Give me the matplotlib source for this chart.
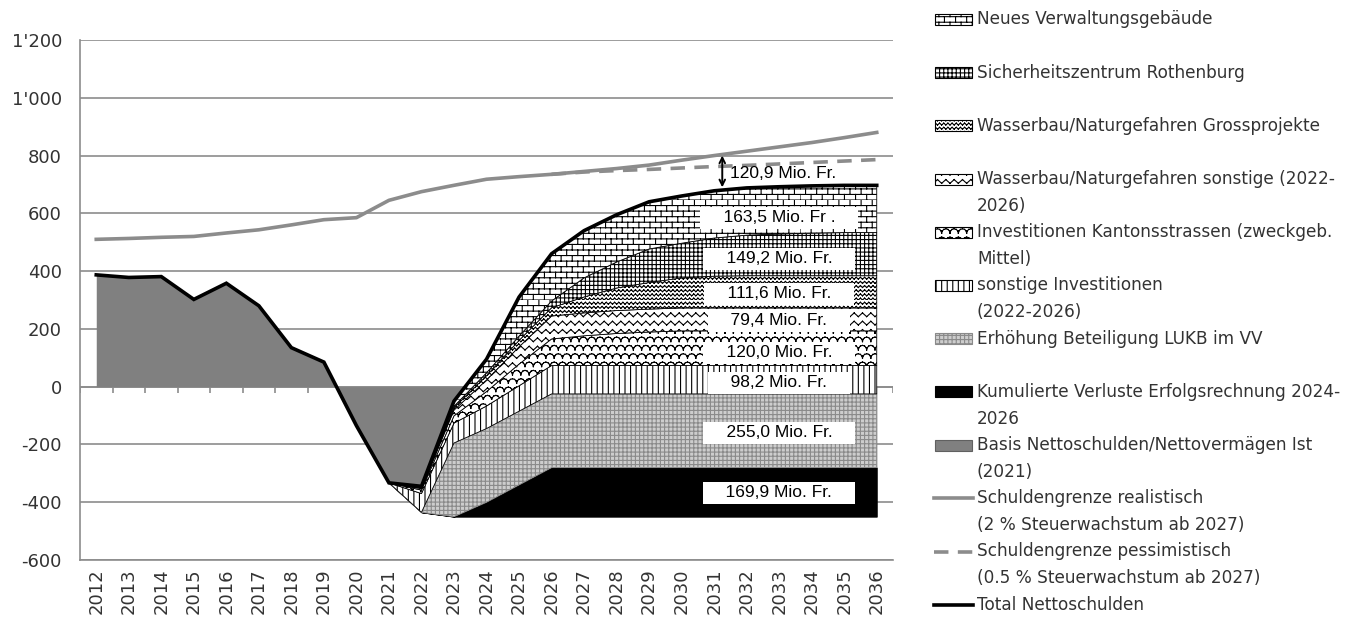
import warnings
import numpy as np
import matplotlib
matplotlib.use("Agg")
import matplotlib.pyplot as plt
from matplotlib import hatch as mhatch
from matplotlib.path import Path
from matplotlib.patches import Rectangle
from matplotlib.lines import Line2D

warnings.filterwarnings("ignore")

# ── Data (Mio. Fr.) ──────────────────────────────────────────────────────────

years = list(range(2012, 2037))

# base net debt (actual until 2021, then base path without projects)
base = [387, 378, 381, 302, 358, 280, 135, 85, -135, -333,
        -435, -450, -450, -450, -450, -450, -450, -450, -450, -450,
        -450, -450, -450, -450, -450]

verluste   = [0] * 10 + [0, 0, 50, 110] + [169.9] * 11
lukb       = [0] * 11 + [255] * 14
sonst_inv  = [0] * 10 + [65, 69, 78, 88] + [98.2] * 11
strassen   = [0] * 10 + [12, 25, 50, 75, 92, 103, 111, 116] + [120] * 7
wb_sonst   = [0] * 10 + [5, 20, 40, 60] + [79.4] * 11
wb_gross   = [0] * 10 + [2, 8, 15, 22, 28.5, 55, 78, 92, 104, 110] + [111.6] * 5
sicherheit = [0] * 10 + [1, 5, 10, 15, 23.5, 66, 90, 116, 120, 132, 140.4, 144.4, 147.4] + [149.2] * 2
verwaltung = [0] * 10 + [5, 18, 47, 135] + [163.5] * 11

grenze_real = [510, 513, 517, 520, 532, 543, 560, 578, 585, 645, 675, 697, 718,
               727, 735, 745, 755, 767, 784, 800, 815, 830, 845, 862, 880]
grenze_pess = [np.nan] * 14 + [735, 743, 748, 752, 757, 762, 766, 771, 776, 781, 786]

labels_txt = ["163,5 Mio. Fr .", "149,2 Mio. Fr.", "111,6 Mio. Fr.", "79,4 Mio. Fr.",
              "120,0 Mio. Fr.", "98,2 Mio. Fr.", "255,0 Mio. Fr.", "169,9 Mio. Fr."]
labels_y   = [585, 443, 322, 228, 118, 14, -159, -367]
gap_txt    = "120,9 Mio. Fr."
gap_lo, gap_hi = 690, 800


# ── Custom hatch patterns (bricks, waves, scales) ────────────────────────────
# every piece is a separate 2-point segment, so Agg doesn't fill them

class _Pattern(mhatch.HatchPatternBase):
    char = ""

    def __init__(self, hatch, density):
        n = hatch.count(self.char)
        lines = self.build(n * density) if n else []
        self.segs = [(a, b) for pts in lines for a, b in zip(pts[:-1], pts[1:])]
        self.num_vertices = 2 * len(self.segs)

    def set_vertices_and_codes(self, vertices, codes):
        for k, (a, b) in enumerate(self.segs):
            vertices[2 * k] = a
            vertices[2 * k + 1] = b
            codes[2 * k] = Path.MOVETO
            codes[2 * k + 1] = Path.LINETO


class Bricks(_Pattern):
    char = "b"

    def build(self, d):
        rows, cols = 3 * d, 3 * d // 2
        segs = []
        for r in range(rows):
            y0, y1 = r / rows, (r + 1) / rows
            segs.append([(0, y0), (1, y0)])
            off = 0.5 / cols if r % 2 else 0.0
            segs += [[(c / cols + off, y0), (c / cols + off, y1)] for c in range(cols)]
        return segs


class Waves(_Pattern):
    char = "w"

    def build(self, d):
        rows, cols = 2 * d, 2 * d
        amp = 0.45 / rows
        return [[(i / (2 * cols), r / rows + amp * (i % 2)) for i in range(2 * cols + 1)]
                for r in range(rows)]


class Scales(_Pattern):
    char = "k"

    def build(self, d):
        rows, cols = 2 * d, 2 * d
        t = np.linspace(np.pi, 0, 7)
        segs = []
        for r in range(rows):
            y = r / rows
            off = 0.5 / cols if r % 2 else 0.0
            for c in range(-1, cols):
                cx = c / cols + off + 0.5 / cols
                segs.append([(cx + 0.5 / cols * np.cos(a), y + 0.55 / rows * np.sin(a)) for a in t])
        return segs


mhatch._hatch_types.extend([Bricks, Waves, Scales])

plt.rcParams["font.family"] = ["DejaVu Sans"]
plt.rcParams["hatch.linewidth"] = 0.8

TXT = "#333333"
GRID = "#8c8c8c"

# ── Figure ───────────────────────────────────────────────────────────────────

W, H = 1368, 624
fig = plt.figure(figsize=(W / 100, H / 100), dpi=100)
ax = fig.add_axes([80 / W, 1 - 560 / H, (893 - 80) / W, (560 - 40) / H])

x = np.arange(len(years))
ax.set_xlim(-0.5, len(years) - 0.5)
ax.set_ylim(-600, 1200)

ax.fill_between(x, 0, base, color="#808080", lw=0, zorder=2)

# stacked project areas (Excel-style cumulative stacking on top of base)
series = [
    (verluste,   "black",   "black",   None),
    (lukb,       "#cdcdcd", "#8a8a8a", "++++"),
    (sonst_inv,  "white",   "black",   "|||"),
    (strassen,   "white",   "black",   "k"),
    (wb_sonst,   "white",   "black",   "w"),
    (wb_gross,   "white",   "black",   "ww"),
    (sicherheit, "white",   "black",   "++++"),
    (verwaltung, "white",   "black",   "b"),
]
s0 = 9  # stacking starts 2021
bottom = np.array(base, dtype=float)
for vals, fc, ec, hat in series:
    top = bottom + np.array(vals, dtype=float)
    ax.fill_between(x[s0:], bottom[s0:], top[s0:], facecolor=fc, edgecolor=ec,
                    hatch=hat, lw=0.6, zorder=3)
    bottom = top
total = bottom

ax.plot(x, grenze_real, color="#8c8c8c", lw=2.6, zorder=5)
ax.plot(x, grenze_pess, color="#8c8c8c", lw=2.6, ls=(0, (4, 2.6)), zorder=5)
ax.plot(x, total, color="black", lw=2.6, zorder=6, solid_joinstyle="miter")

ax.annotate("", xy=(19.25, gap_hi), xytext=(19.25, gap_lo),
            arrowprops=dict(arrowstyle="<->", color="black", lw=1.4,
                            shrinkA=0, shrinkB=0), zorder=7)
ax.text(19.5, 737, gap_txt, fontsize=12.5, family="Liberation Sans",
        va="center", ha="left", color="black", zorder=7)
for t, yv in zip(labels_txt, labels_y):
    ax.text(21.0, yv, "    " + t + "    ", fontsize=12.5, family="Liberation Sans",
            va="center", ha="center", color="black", zorder=7,
            bbox=dict(boxstyle="square,pad=0.2", fc="white", ec="none"))

# axes styling
ax.set_yticks(range(-600, 1201, 200))
ax.set_yticklabels([f"{v:,}".replace(",", "'") for v in range(-600, 1201, 200)])
ax.grid(axis="y", color=GRID, lw=1.2, zorder=0)
ax.set_axisbelow(True)
ax.set_xticks(x)
ax.set_xticklabels([str(y) for y in years], rotation=90)
ax.tick_params(axis="both", length=0, labelsize=13, colors=TXT)
ax.tick_params(axis="y", pad=13)
ax.tick_params(axis="x", pad=6)
for side in ["top", "right"]:
    ax.spines[side].set_visible(False)
for side in ["left", "bottom"]:
    ax.spines[side].set_color(GRID)
    ax.spines[side].set_linewidth(1.2)

# category axis at zero with boundary tick marks
ax.axhline(0, color=GRID, lw=1.2, zorder=1)
ax.vlines(np.arange(-0.5, len(years)), -21, 0, color=GRID, lw=1.2, zorder=1)

# ── Legend (manual, first line of each entry aligned with its key) ───────────

def fy(py):
    return 1 - py / H

legend = [
    ("patch", dict(facecolor="white", edgecolor="black", hatch="b"),
     ["Neues Verwaltungsgebäude"]),
    ("patch", dict(facecolor="white", edgecolor="black", hatch="++++"),
     ["Sicherheitszentrum Rothenburg"]),
    ("patch", dict(facecolor="white", edgecolor="black", hatch="ww"),
     ["Wasserbau/Naturgefahren Grossprojekte"]),
    ("patch", dict(facecolor="white", edgecolor="black", hatch="w"),
     ["Wasserbau/Naturgefahren sonstige (2022-", "2026)"]),
    ("patch", dict(facecolor="white", edgecolor="black", hatch="k"),
     ["Investitionen Kantonsstrassen (zweckgeb.", "Mittel)"]),
    ("patch", dict(facecolor="white", edgecolor="black", hatch="|||"),
     ["sonstige Investitionen", "(2022-2026)"]),
    ("patch", dict(facecolor="#cdcdcd", edgecolor="#8a8a8a", hatch="++++"),
     ["Erhöhung Beteiligung LUKB im VV"]),
    ("patch", dict(facecolor="black", edgecolor="black"),
     ["Kumulierte Verluste Erfolgsrechnung 2024-", "2026"]),
    ("patch", dict(facecolor="#808080", edgecolor="#606060"),
     ["Basis Nettoschulden/Nettovermägen Ist", "(2021)"]),
    ("line", dict(color="#8c8c8c", lw=2.6),
     ["Schuldengrenze realistisch", "(2 % Steuerwachstum ab 2027)"]),
    ("line", dict(color="#8c8c8c", lw=2.6, ls=(0, (4, 2.6))),
     ["Schuldengrenze pessimistisch", "(0.5 % Steuerwachstum ab 2027)"]),
    ("line", dict(color="black", lw=2.6),
     ["Total Nettoschulden"]),
]

line_h = 26.6
for i, (kind, style, lines) in enumerate(legend):
    yc = 19.5 + 2 * i * line_h
    if kind == "patch":
        fig.patches.append(Rectangle((935 / W, fy(yc + 5.5)), 37 / W, 11 / H,
                                     transform=fig.transFigure, lw=0.8, **style))
    else:
        fig.lines.append(Line2D([934 / W, 973 / W], [fy(yc), fy(yc)],
                                transform=fig.transFigure, **style))
    for j, t in enumerate(lines):
        fig.text(977 / W, fy(yc + j * line_h), t, fontsize=12.2, color=TXT,
                 va="center", ha="left")

fig.savefig("out.png", dpi=100)
